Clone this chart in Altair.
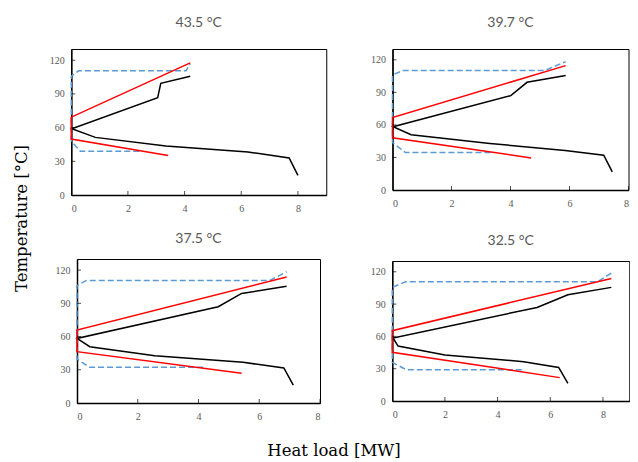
import altair as alt
import pandas as pd

# ---------------- data ----------------
titles = ["43.5 °C", "39.7 °C", "37.5 °C", "32.5 °C"]
x_max = [9, 8, 8, 9]
x_ticks = [0, 2, 4, 6, 8]
y_ticks = [0, 30, 60, 90, 120]

# panel 1 (43.5 °C)
p1_black_x = [8.0, 7.69, 6.24, 3.34, 0.85, 0.02, 3.05, 3.16, 4.2]
p1_black_y = [17.4, 33.0, 38.3, 43.6, 51.3, 59.0, 86.7, 99.4, 105.8]
p1_red_x = [3.42, 0.0, 0.0, 4.2]
p1_red_y = [35.1, 49.8, 69.3, 117.6]
p1_blue_x = [2.4, 0.32, 0.0, 0.0, 0.26, 4.05, 4.2]
p1_blue_y = [38.9, 38.9, 47.8, 105.8, 110.6, 110.6, 117.0]

# panel 2 (39.7 °C)
p2_black_x = [7.45, 7.16, 5.85, 3.3, 0.63, 0.02, 4.01, 4.56, 5.87]
p2_black_y = [16.7, 32.1, 36.5, 42.9, 50.9, 58.3, 87.0, 99.3, 105.5]
p2_red_x = [4.7, 0.0, 0.0, 5.87]
p2_red_y = [29.6, 48.1, 66.9, 114.7]
p2_blue_x = [3.32, 0.44, 0.0, 0.0, 0.34, 5.16, 5.87]
p2_blue_y = [34.5, 34.5, 43.8, 106.0, 110.1, 110.1, 118.4]

# panel 3 (37.5 °C)
p3_black_x = [7.12, 6.81, 5.47, 2.56, 0.42, 0.0, 4.65, 5.42, 6.9]
p3_black_y = [16.2, 31.6, 36.7, 42.7, 50.8, 58.3, 86.9, 98.9, 105.3]
p3_red_x = [5.42, 0.0, 0.0, 6.9]
p3_red_y = [26.8, 46.3, 65.9, 113.7]
p3_blue_x = [4.15, 0.42, 0.0, 0.0, 0.31, 6.35, 6.9]
p3_blue_y = [32.2, 32.2, 39.7, 105.9, 110.7, 110.7, 118.5]

# panel 4 (32.5 °C)
p4_black_x = [6.67, 6.32, 4.99, 2.0, 0.22, 0.03, 5.5, 6.67, 8.32]
p4_black_y = [16.4, 31.2, 36.5, 42.7, 51.0, 58.5, 86.9, 98.7, 105.5]
p4_red_x = [6.36, 0.0, 0.0, 8.32]
p4_red_y = [21.7, 45.2, 65.3, 113.8]
p4_blue_x = [4.92, 0.53, 0.0, 0.0, 0.51, 7.79, 8.32]
p4_blue_y = [29.1, 29.1, 35.9, 105.5, 110.7, 110.7, 118.8]

SERIF = "Liberation Serif"
LABEL_GRAY = "#595959"


def frame(xs, ys):
    return pd.DataFrame({"x": xs, "y": ys, "i": list(range(len(xs)))})


def panel(title, xmax, w, h, bx, by, rx, ry, ux, uy, title_offset):
    xs = alt.Scale(domain=[0, xmax], nice=False, zero=True)
    ys = alt.Scale(domain=[0, 130], nice=False)
    yaxis = alt.Axis(values=y_ticks, title=None, ticks=False, labelPadding=7, grid=False,
                     labelFont=SERIF, labelFontSize=10, labelColor=LABEL_GRAY,
                     domainColor="black", domainWidth=1.5)
    xaxis = alt.Axis(values=x_ticks, title=None, ticks=False, labelPadding=8,
                     grid=False, labelFont=SERIF, labelFontSize=10,
                     labelColor=LABEL_GRAY, domainColor="black", domainWidth=1.5)
    X = alt.X("x:Q", scale=xs, axis=xaxis)
    Y = alt.Y("y:Q", scale=ys, axis=yaxis)

    blue = alt.Chart(frame(ux, uy)).mark_line(
        color="#5B9BD5", strokeWidth=1.5, strokeDash=[6, 3]
    ).encode(x=X, y=Y, order="i:Q")
    black = alt.Chart(frame(bx, by)).mark_line(
        color="black", strokeWidth=1.5
    ).encode(x=X, y=Y, order="i:Q")
    red = alt.Chart(frame(rx, ry)).mark_line(
        color="#FF0000", strokeWidth=1.5
    ).encode(x=X, y=Y, order="i:Q")

    xt = alt.Chart(pd.DataFrame({"t": x_ticks[1:]})).mark_tick(
        color="black", thickness=1, size=4
    ).encode(x=alt.X("t:Q", scale=xs, axis=xaxis), y=alt.value(h - 2))
    yt = alt.Chart(pd.DataFrame({"t": y_ticks[1:]})).mark_tick(
        color="black", thickness=1, size=4
    ).encode(y=alt.Y("t:Q", scale=ys, axis=yaxis), x=alt.value(2))

    return alt.layer(blue, black, red, xt, yt).properties(
        width=w, height=h,
        title=alt.TitleParams(title, font="Lato", fontSize=14, fontWeight="normal",
                              color=LABEL_GRAY, anchor="middle", offset=title_offset),
    )


p1 = panel(titles[0], x_max[0], 255, 146, p1_black_x, p1_black_y, p1_red_x, p1_red_y,
           p1_blue_x, p1_blue_y, 19)
p2 = panel(titles[1], x_max[1], 236, 141, p2_black_x, p2_black_y, p2_red_x, p2_red_y,
           p2_blue_x, p2_blue_y, 19)
p3 = panel(titles[2], x_max[2], 243, 144, p3_black_x, p3_black_y, p3_red_x, p3_red_y,
           p3_blue_x, p3_blue_y, 13)
p4 = panel(titles[3], x_max[3], 237, 140, p4_black_x, p4_black_y, p4_red_x, p4_red_y,
           p4_blue_x, p4_blue_y, 13)

col1 = alt.vconcat(p1, p3, spacing=17, center=True).properties(
    title=alt.TitleParams("Temperature [°C]", orient="left", anchor="middle",
                          font="DejaVu Serif", fontSize=16.5, fontWeight="normal",
                          color="black", offset=18)
)
col2 = alt.vconcat(p2, p4, spacing=24, center=True)

chart = alt.hconcat(col1, col2, spacing=42).properties(
    title=alt.TitleParams("Heat load [MW]", orient="bottom", anchor="middle",
                          font="DejaVu Serif", fontSize=16.5, fontWeight="normal",
                          color="black", offset=21, dx=12),
    padding={"left": 6, "top": 7, "right": 0, "bottom": 0},
).configure_view(stroke="black", strokeWidth=1)

chart.save("out.html", embed_options={"renderer": "svg", "actions": False})
